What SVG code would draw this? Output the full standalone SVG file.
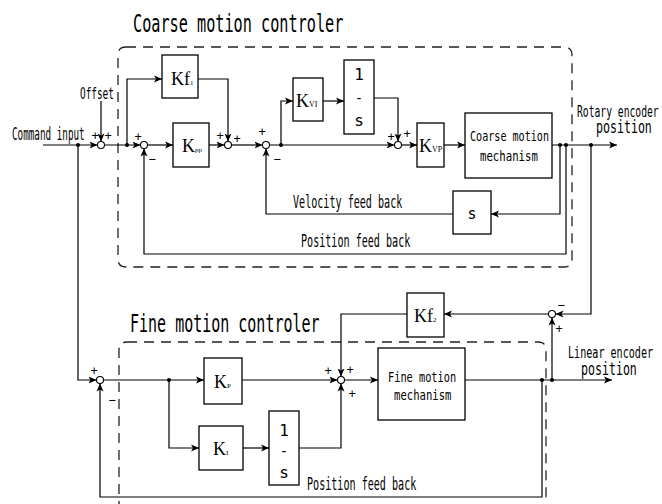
<svg xmlns="http://www.w3.org/2000/svg" width="662" height="504" viewBox="0 0 662 504">
<style>
.ln{fill:none;stroke:#000;stroke-width:1.2}
.bx{fill:#fff;stroke:#000;stroke-width:1.3}
.sum{fill:#fff;stroke:#000;stroke-width:1.1}
.dash{fill:none;stroke:#222;stroke-width:1.3;stroke-dasharray:10 7}
.t{font-family:"DejaVu Sans Mono","Liberation Mono",monospace;fill:#000}
.k{font-family:"Liberation Serif","Times New Roman",serif;fill:#000}
.sg{font-family:"DejaVu Sans Mono",monospace;font-size:12px;text-anchor:middle;dominant-baseline:central}
.dot{fill:#000}
</style>
<defs>
<marker id="a" markerUnits="userSpaceOnUse" markerWidth="9" markerHeight="8" refX="8" refY="4" orient="auto">
<path d="M0,0.5 L8,4 L0,7.5 L2,4 Z" fill="#000"/>
</marker>
</defs>
<rect width="662" height="504" fill="#fff"/>

<g id="coarse-frame">
<path class="dash" d="M126,47 H564 Q572,47 572,55 V259 Q572,267 564,267 H126 Q118,267 118,259 V55 Q118,47 126,47 Z"/>
<text class="t" transform="translate(133,32) scale(1,1.62)" font-size="15.2">Coarse motion controler</text>
</g>
<g id="fine-frame">
<path class="dash" d="M127,342 H538 Q546,342 546,350 V502 Q546,510 538,510 H127 Q119,510 119,502 V350 Q119,342 127,342 Z"/>
<text class="t" transform="translate(130,332) scale(1,1.65)" font-size="15">Fine motion controler</text>
</g>

<g id="connectors">
<path class="ln" d="M43,145 H97.5" marker-end="url(#a)"/>
<path class="ln" d="M101,101 V141.5" marker-end="url(#a)"/>
<path class="ln" d="M104.5,145 H140.5" marker-end="url(#a)"/>
<path class="ln" d="M127,145 V79 H162" marker-end="url(#a)"/>
<path class="ln" d="M198,79 H228 V141.5" marker-end="url(#a)"/>
<path class="ln" d="M147.5,145 H173" marker-end="url(#a)"/>
<path class="ln" d="M209,145 H224.5" marker-end="url(#a)"/>
<path class="ln" d="M231.5,145 H262.5" marker-end="url(#a)"/>
<path class="ln" d="M269.5,145 H394.5" marker-end="url(#a)"/>
<path class="ln" d="M281,145 V101 H293" marker-end="url(#a)"/>
<path class="ln" d="M323,101 H344" marker-end="url(#a)"/>
<path class="ln" d="M374,98 H398 V141.5" marker-end="url(#a)"/>
<path class="ln" d="M401.5,145 H417" marker-end="url(#a)"/>
<path class="ln" d="M444,145 H465" marker-end="url(#a)"/>
<path class="ln" d="M552,145 H617" marker-end="url(#a)"/>
<path class="ln" d="M560,145 V214 H491" marker-end="url(#a)"/>
<path class="ln" d="M453,214 H266 V148.5" marker-end="url(#a)"/>
<path class="ln" d="M566,145 V254 H144 V148.5" marker-end="url(#a)"/>
<path class="ln" d="M591,145 V314 H555.5" marker-end="url(#a)"/>
<path class="ln" d="M548.5,314 H444" marker-end="url(#a)"/>
<path class="ln" d="M407,314 H341 V376.5" marker-end="url(#a)"/>
<path class="ln" d="M78,145 V380 H96.5" marker-end="url(#a)"/>
<path class="ln" d="M103.5,380 H204" marker-end="url(#a)"/>
<path class="ln" d="M169,380 V448 H199" marker-end="url(#a)"/>
<path class="ln" d="M243,448 H269" marker-end="url(#a)"/>
<path class="ln" d="M299,448 H341 V383.5" marker-end="url(#a)"/>
<path class="ln" d="M242,380 H337.5" marker-end="url(#a)"/>
<path class="ln" d="M344.5,380 H378" marker-end="url(#a)"/>
<path class="ln" d="M465,380 H612" marker-end="url(#a)"/>
<path class="ln" d="M542,380 V497 H100 V383.5" marker-end="url(#a)"/>
<path class="ln" d="M552,380 V317.5" marker-end="url(#a)"/>
<circle class="dot" cx="78" cy="145" r="2"/>
<circle class="dot" cx="127" cy="145" r="2"/>
<circle class="dot" cx="281" cy="145" r="2"/>
<circle class="dot" cx="560" cy="145" r="2"/>
<circle class="dot" cx="566" cy="145" r="2"/>
<circle class="dot" cx="591" cy="145" r="2"/>
<circle class="dot" cx="169" cy="380" r="2"/>
<circle class="dot" cx="542" cy="380" r="2"/>
<circle class="dot" cx="552" cy="380" r="2"/>
</g>

<g id="labels">
<text class="t" transform="translate(12,140) scale(1,1.85)" font-size="9.3">Command input</text>
<text class="t" transform="translate(80,99) scale(1,1.6)" font-size="9.4">Offset</text>
<text class="t" transform="translate(577,117) scale(1,1.65)" font-size="9.7">Rotary encoder</text>
<text class="t" transform="translate(596,133) scale(1,1.55)" font-size="11.6">position</text>
<text class="t" transform="translate(293,208) scale(1,1.75)" font-size="10.1">Velocity feed back</text>
<text class="t" transform="translate(301,247) scale(1,1.75)" font-size="10.1">Position feed back</text>
<text class="t" transform="translate(568,358) scale(1,1.6)" font-size="10.1">Linear encoder</text>
<text class="t" transform="translate(581,375) scale(1,1.55)" font-size="11.6">position</text>
<text class="t" transform="translate(307,490) scale(1,1.75)" font-size="10.1">Position feed back</text>
</g>

<g id="sum1"><circle class="sum" cx="101" cy="145" r="3.5"/><text class="sg" x="95" y="136">+</text><text class="sg" x="108" y="136">+</text></g>
<g id="sum2"><circle class="sum" cx="144" cy="145" r="3.5"/><text class="sg" x="138" y="137">+</text><text class="sg" x="152" y="159">−</text></g>
<g id="sum3"><circle class="sum" cx="228" cy="145" r="3.5"/><text class="sg" x="220" y="136">+</text><text class="sg" x="237" y="139">+</text></g>
<g id="sum4"><circle class="sum" cx="266" cy="145" r="3.5"/><text class="sg" x="262" y="132">+</text><text class="sg" x="277" y="159">−</text></g>
<g id="sum5"><circle class="sum" cx="398" cy="145" r="3.5"/><text class="sg" x="391" y="137">+</text><text class="sg" x="407" y="134">+</text></g>
<g id="sum6"><circle class="sum" cx="552" cy="314" r="3.5"/><text class="sg" x="561" y="305">−</text><text class="sg" x="559" y="329">+</text></g>
<g id="sum7"><circle class="sum" cx="100" cy="380" r="3.5"/><text class="sg" x="94" y="371">+</text><text class="sg" x="112" y="400">−</text></g>
<g id="sum8"><circle class="sum" cx="341" cy="380" r="3.5"/><text class="sg" x="328" y="371">+</text><text class="sg" x="350" y="370">+</text><text class="sg" x="352" y="394">+</text></g>

<g id="Kf1"><rect class="bx" x="162" y="55" width="36" height="43"/><text class="k" x="171" y="85" font-size="18">Kf<tspan font-size="7">1</tspan></text></g>
<g id="Kpp"><rect class="bx" x="173" y="123" width="36" height="44"/><text class="k" x="182" y="152" font-size="18">K<tspan font-size="7">pp</tspan></text></g>
<g id="KVI"><rect class="bx" x="293" y="78" width="30" height="43"/><text class="k" x="296" y="107" font-size="18">K<tspan font-size="8">VI</tspan></text></g>
<g id="Int1"><rect class="bx" x="344" y="60" width="30" height="74"/><text class="t" x="359" y="80" font-size="16" text-anchor="middle">1</text><text class="t" x="359" y="103" font-size="14" text-anchor="middle">-</text><text class="t" x="359" y="126" font-size="16" text-anchor="middle">s</text></g>
<g id="KVP"><rect class="bx" x="417" y="123" width="27" height="44"/><text class="k" x="419" y="152" font-size="18">K<tspan font-size="8">VP</tspan></text></g>
<g id="coarse-mech"><rect class="bx" x="465" y="113" width="87" height="65"/><text class="t" transform="translate(470,141) scale(1,1.36)" font-size="10.1">Coarse motion</text><text class="t" transform="translate(480,161) scale(1,1.3)" font-size="10.7">mechanism</text></g>
<g id="S"><rect class="bx" x="453" y="191" width="38" height="43"/><text class="t" x="472" y="219" font-size="15" text-anchor="middle">s</text></g>
<g id="Kf2"><rect class="bx" x="407" y="293" width="37" height="44"/><text class="k" x="414" y="322" font-size="18">Kf<tspan font-size="7">2</tspan></text></g>
<g id="Kp"><rect class="bx" x="204" y="358" width="38" height="46"/><text class="k" x="214" y="388" font-size="18">K<tspan font-size="7">P</tspan></text></g>
<g id="KI"><rect class="bx" x="199" y="426" width="44" height="44"/><text class="k" x="213" y="455" font-size="18">K<tspan font-size="7">I</tspan></text></g>
<g id="Int2"><rect class="bx" x="269" y="411" width="30" height="74"/><text class="t" x="284" y="436" font-size="16" text-anchor="middle">1</text><text class="t" x="284" y="456" font-size="14" text-anchor="middle">-</text><text class="t" x="284" y="478" font-size="16" text-anchor="middle">s</text></g>
<g id="fine-mech"><rect class="bx" x="378" y="348" width="87" height="72"/><text class="t" transform="translate(388,382) scale(1,1.33)" font-size="10.3">Fine motion</text><text class="t" transform="translate(394,400) scale(1,1.3)" font-size="10.6">mechanism</text></g>
</svg>
